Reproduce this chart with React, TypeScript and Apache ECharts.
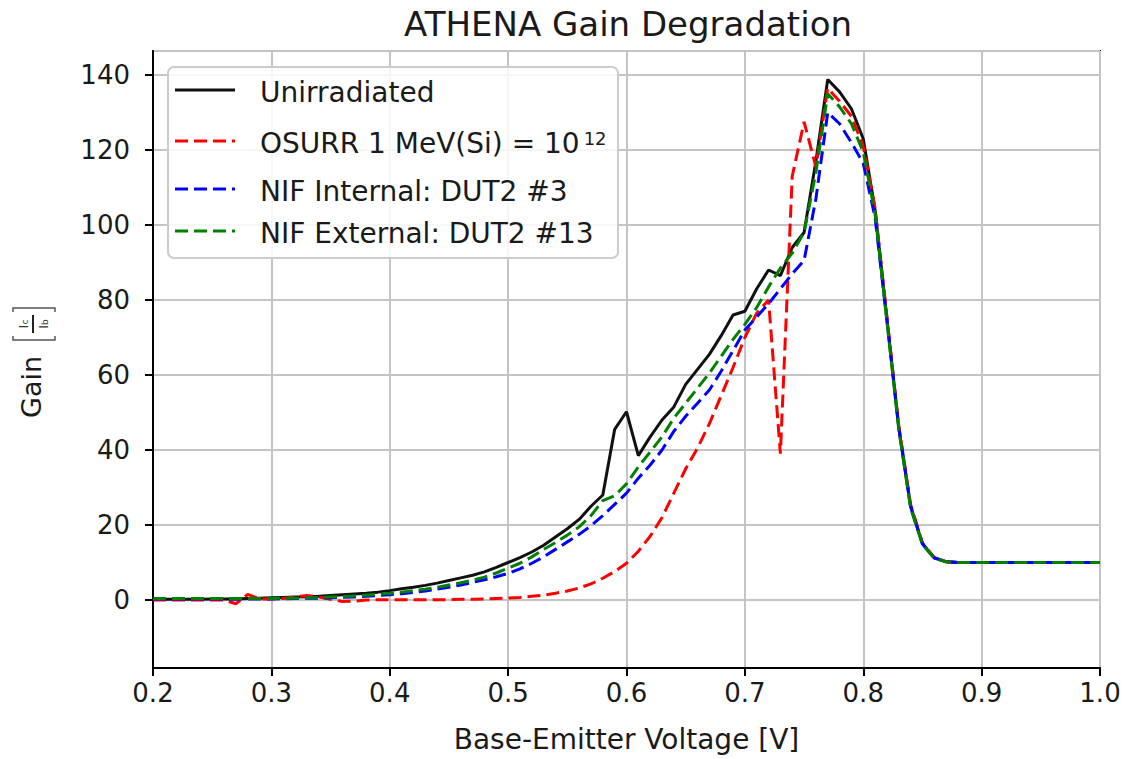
import React, { useEffect, useRef } from "react";
import * as echarts from "echarts";

// Base-emitter voltage samples [V]
const voltages: number[] = [
  0.2, 0.21, 0.22, 0.23, 0.24, 0.25, 0.26, 0.27, 0.28, 0.29,
  0.3, 0.31, 0.32, 0.33, 0.34, 0.35, 0.36, 0.37, 0.38, 0.39,
  0.4, 0.41, 0.42, 0.43, 0.44, 0.45, 0.46, 0.47, 0.48, 0.49,
  0.5, 0.51, 0.52, 0.53, 0.54, 0.55, 0.56, 0.57, 0.58, 0.59,
  0.6, 0.61, 0.62, 0.63, 0.64, 0.65, 0.66, 0.67, 0.68, 0.69,
  0.7, 0.71, 0.72, 0.73, 0.74, 0.75, 0.76, 0.77, 0.78, 0.79,
  0.8, 0.81, 0.82, 0.83, 0.84, 0.85, 0.86, 0.87, 0.88, 0.89,
  0.9, 0.91, 0.92, 0.93, 0.94, 0.95, 0.96, 0.97, 0.98, 0.99, 1.0,
];

const unirradiated: number[] = [
  0.2, 0.2, 0.2, 0.2, 0.2, 0.3, 0.3, 0.3, 0.4, 0.5,
  0.6, 0.7, 0.8, 0.9, 1.0, 1.2, 1.4, 1.6, 1.8, 2.1,
  2.5, 3.0, 3.4, 3.9, 4.5, 5.2, 5.9, 6.6, 7.5, 8.7,
  10.0, 11.3, 12.8, 14.6, 16.8, 19.0, 21.5, 25.0, 28.0, 45.5,
  50.2, 38.5, 43.5, 48.0, 51.5, 57.5, 61.5, 65.5, 70.5, 76.0,
  77.0, 83.0, 88.0, 86.5, 94.0, 98.0, 117.0, 138.8, 135.5, 131.0,
  123.0, 104.0, 75.0, 46.0, 25.0, 15.0, 11.3, 10.2, 10.0, 10.0,
  10.0, 10.0, 10.0, 10.0, 10.0, 10.0, 10.0, 10.0, 10.0, 10.0, 10.0,
];

const osurr: number[] = [
  0.0, 0.0, 0.0, 0.0, 0.0, 0.0, 0.0, -1.0, 1.5, 0.3,
  0.3, 0.4, 0.8, 1.2, 0.8, 0.2, -0.4, -0.3, 0.0, 0.1,
  0.1, 0.1, 0.1, 0.1, 0.1, 0.1, 0.2, 0.2, 0.3, 0.4,
  0.5, 0.7, 1.0, 1.3, 1.8, 2.4, 3.2, 4.3, 5.8, 7.6,
  9.8, 13.0, 17.0, 22.0, 28.5, 35.0, 40.5, 47.0, 54.5, 62.0,
  70.0, 76.5, 80.0, 39.0, 113.0, 127.5, 115.5, 136.5, 133.0, 129.0,
  121.0, 104.5, 75.5, 46.5, 25.5, 15.2, 11.3, 10.2, 10.0, 10.0,
  10.0, 10.0, 10.0, 10.0, 10.0, 10.0, 10.0, 10.0, 10.0, 10.0, 10.0,
];

const nifInternal: number[] = [
  0.3, 0.3, 0.3, 0.3, 0.3, 0.3, 0.3, 0.3, 0.3, 0.3,
  0.3, 0.35, 0.4, 0.45, 0.5, 0.6, 0.7, 0.8, 1.0, 1.2,
  1.4, 1.7, 2.0, 2.4, 2.9, 3.4, 4.0, 4.7, 5.4, 6.2,
  7.1, 8.3, 9.8, 11.5, 13.5, 15.5, 17.5, 19.8, 22.5, 25.5,
  28.5, 32.5, 36.0, 40.0, 45.0, 49.0, 52.5, 56.0, 61.0, 66.5,
  72.0, 75.5, 79.0, 83.0, 87.0, 90.5, 107.0, 130.0, 127.0, 122.0,
  116.5, 102.0, 74.5, 46.0, 25.0, 15.0, 11.2, 10.2, 10.0, 10.0,
  10.0, 10.0, 10.0, 10.0, 10.0, 10.0, 10.0, 10.0, 10.0, 10.0, 10.0,
];

const nifExternal: number[] = [
  0.4, 0.4, 0.4, 0.4, 0.4, 0.4, 0.4, 0.4, 0.4, 0.4,
  0.4, 0.45, 0.5, 0.6, 0.7, 0.8, 0.9, 1.1, 1.3, 1.5,
  1.8, 2.1, 2.5, 2.9, 3.4, 4.0, 4.6, 5.3, 6.1, 7.2,
  8.5, 9.8, 11.5, 13.5, 15.3, 17.3, 19.5, 22.5, 26.5, 27.8,
  31.0, 35.5, 39.5, 43.5, 48.5, 52.5, 56.5, 60.5, 65.0, 69.5,
  73.5, 78.0, 83.5, 88.5, 92.5, 98.0, 114.0, 135.0, 131.5, 127.0,
  119.5, 103.0, 74.5, 45.5, 24.5, 14.8, 11.1, 10.2, 10.0, 10.0,
  10.0, 10.0, 10.0, 10.0, 10.0, 10.0, 10.0, 10.0, 10.0, 10.0, 10.0,
];

const seriesNames: string[] = [
  "Unirradiated",
  "OSURR 1 MeV(Si) = 10",
  "NIF Internal: DUT2 #3",
  "NIF External: DUT2 #13",
];
const seriesColors: string[] = ["#111111", "#ff0000", "#0000ff", "#008000"];
const seriesData: number[][] = [unirradiated, osurr, nifInternal, nifExternal];

const FONT = "DejaVu Sans";
const TXT = "#1a1a1a";

export default function App() {
  const ref = useRef<HTMLDivElement>(null);

  useEffect(() => {
    if (!ref.current) return;
    const chart = echarts.init(ref.current, undefined, { renderer: "svg" });

    const series = seriesData.map((vals, i) => ({
      name: seriesNames[i],
      type: "line",
      data: voltages.map((v, j) => [v, vals[j]]),
      showSymbol: false,
      symbol: "none",
      z: 3 + i,
      lineStyle: {
        color: seriesColors[i],
        width: 3,
        type: i === 0 ? "solid" : [13, 6],
      },
      itemStyle: { color: seriesColors[i] },
    }));

    // legend rows (custom, matplotlib-like)
    const rowY = [90, 141, 189, 231];
    const legendEls: any[] = [
      {
        type: "rect",
        shape: { x: 168, y: 67, width: 450, height: 191, r: 6 },
        style: { fill: "rgba(255,255,255,0.85)", stroke: "#cccccc", lineWidth: 2 },
        z: 50,
      },
    ];
    rowY.forEach((y, i) => {
      legendEls.push({
        type: "line",
        shape: { x1: 175, y1: y, x2: 235, y2: y },
        style: {
          stroke: seriesColors[i],
          lineWidth: 3,
          lineDash: i === 0 ? null : [13, 6],
        },
        z: 51,
      });
      legendEls.push({
        type: "text",
        x: 260,
        y: y + 2,
        style: {
          text: i === 1 ? seriesNames[i] + "{sup|12}" : seriesNames[i],
          fontFamily: FONT,
          fontSize: 28,
          fill: TXT,
          align: "left",
          verticalAlign: "middle",
          rich: {
            sup: { fontFamily: FONT, fontSize: 18, verticalAlign: "top", fill: TXT, padding: [0, 0, 0, 4] },
          },
        },
        z: 51,
      });
    });

    // y axis name: Gain [Ic/Ib], rotated
    const subRich = { s: { fontFamily: FONT, fontSize: 9, fill: "#333", verticalAlign: "bottom" } };
    const yName = {
      type: "group",
      x: 33,
      y: 360,
      rotation: Math.PI / 2,
      children: [
        {
          type: "text",
          x: -58,
          y: -2,
          style: {
            text: "Gain",
            fontFamily: FONT,
            fontSize: 27,
            fill: TXT,
            align: "left",
            verticalAlign: "middle",
          },
        },
        {
          type: "polyline",
          shape: { points: [[24, -20], [20, -20], [20, 22], [24, 22]] },
          style: { stroke: "#555", lineWidth: 1.5, fill: null },
        },
        {
          type: "polyline",
          shape: { points: [[48, -20], [52, -20], [52, 22], [48, 22]] },
          style: { stroke: "#555", lineWidth: 1.5, fill: null },
        },
        {
          type: "line",
          shape: { x1: 27, y1: 0, x2: 45, y2: 0 },
          style: { stroke: "#222", lineWidth: 2 },
        },
        {
          type: "text",
          x: 36,
          y: -10,
          style: {
            text: "I{s|c}",
            fontFamily: FONT,
            fontSize: 13,
            fill: "#333",
            align: "center",
            verticalAlign: "middle",
            rich: subRich,
          },
        },
        {
          type: "text",
          x: 36,
          y: 10,
          style: {
            text: "I{s|b}",
            fontFamily: FONT,
            fontSize: 13,
            fill: "#333",
            align: "center",
            verticalAlign: "middle",
            rich: subRich,
          },
        },
      ],
    };

    chart.setOption({
      animation: false,
      backgroundColor: "#ffffff",
      title: {
        text: "ATHENA Gain Degradation",
        left: 623,
        top: 2,
        textAlign: "center",
        textStyle: { fontFamily: FONT, fontSize: 34, fontWeight: "normal", color: TXT },
      },
      grid: {
        left: 153,
        right: 24,
        top: 51,
        bottom: 91,
        containLabel: false,
        show: true,
        borderColor: "#000000",
        borderWidth: 2,
        backgroundColor: "transparent",
      },
      xAxis: {
        type: "value",
        min: 0.2,
        max: 1.0,
        interval: 0.1,
        name: "Base-Emitter Voltage [V]",
        nameLocation: "middle",
        nameGap: 57,
        nameTextStyle: { fontFamily: FONT, fontSize: 28, color: TXT },
        axisLine: { show: true, onZero: false, lineStyle: { color: "#000", width: 2 } },
        axisTick: { show: true, inside: false, length: 8, lineStyle: { color: "#000", width: 2 } },
        axisLabel: {
          margin: 12,
          fontFamily: FONT,
          fontSize: 26,
          color: TXT,
          formatter: (v: number) => v.toFixed(1),
        },
        splitLine: { show: true, lineStyle: { color: "#c4c4c4", width: 2 } },
      },
      yAxis: {
        type: "value",
        min: -18.13,
        max: 146.4,
        splitNumber: 8,
        minInterval: 20,
        maxInterval: 20,
        axisLine: { show: true, onZero: false, lineStyle: { color: "#000", width: 2 } },
        axisTick: { show: true, inside: false, length: 8, lineStyle: { color: "#000", width: 2 } },
        axisLabel: {
          margin: 23,
          fontFamily: FONT,
          fontSize: 26,
          color: TXT,
          showMinLabel: false,
          showMaxLabel: false,
          formatter: (v: number) => (Math.abs(v % 20) < 1e-6 ? String(Math.round(v)) : ""),
        },
        splitLine: { show: true, lineStyle: { color: "#c4c4c4", width: 2 } },
      },
      series,
      graphic: [...legendEls, yName],
    });

    return () => chart.dispose();
  }, []);

  return (
    <div
      ref={ref}
      style={{ position: "absolute", left: 0, top: 0, width: 1124, height: 759, background: "#fff" }}
    />
  );
}
